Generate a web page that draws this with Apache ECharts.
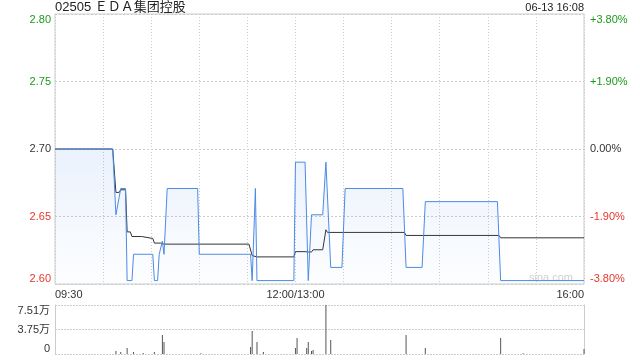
<!DOCTYPE html>
<html>
<head>
<meta charset="utf-8">
<script src="https://cdn.jsdelivr.net/npm/echarts@6/dist/echarts.min.js"></script>
<style>
html,body{margin:0;padding:0;background:#fff;}
#c{width:640px;height:360px;}
</style>
</head>
<body>
<div id="c"></div>
<script>
// ---- data (minute index from 09:30; 0..150 = 09:30..12:00, 150..330 = 13:00..16:00) ----
const titleText = '02505 ＥＤＡ集团控股';
const dateText = '06-13 16:08';
const prevClose = 2.70;
const timeLabels = {0: '09:30', 150: '12:00/13:00', 330: '16:00'};

const priceIdx = [0, 36, 38, 39, 41, 44, 45, 48, 49, 61, 62, 64, 65, 67, 68, 70, 89, 90, 122, 123, 124, 125, 126, 149, 150, 156, 158, 160, 167, 169, 170, 172, 179, 181, 217, 219, 229, 231, 276, 278, 330];
const priceVal = [2.70, 2.70, 2.65, 2.65, 2.67, 2.67, 2.60, 2.60, 2.62, 2.62, 2.60, 2.60, 2.62, 2.63, 2.62, 2.67, 2.67, 2.62, 2.62, 2.60, 2.60, 2.67, 2.60, 2.60, 2.69, 2.69, 2.60, 2.65, 2.65, 2.69, 2.69, 2.61, 2.61, 2.67, 2.67, 2.61, 2.61, 2.66, 2.66, 2.60, 2.60];

const avgIdx = [0, 36, 38, 40, 41, 44, 45, 47, 48, 54, 55, 61, 62, 66, 67, 68, 121, 123, 126, 149, 150, 156, 158, 160, 161, 167, 169, 170, 218, 219, 277, 278, 330];
const avgVal = [2.70, 2.70, 2.667, 2.667, 2.669, 2.669, 2.637, 2.637, 2.6335, 2.6335, 2.632, 2.632, 2.6285, 2.6285, 2.627, 2.6277, 2.6277, 2.619, 2.618, 2.618, 2.622, 2.622, 2.6217, 2.6217, 2.6234, 2.6234, 2.6386, 2.6366, 2.6366, 2.6343, 2.6343, 2.6325, 2.6325];

const volIdx = [38, 41, 45, 49, 55, 62, 67, 68, 91, 122, 123, 126, 130, 150, 151, 157, 158, 160, 161, 169, 172, 219, 231, 278, 292, 330];
const volVal = [4600, 3000, 9200, 3000, 1500, 3000, 29000, 18400, 1000, 10700, 35200, 18400, 3000, 9200, 24500, 9200, 18400, 4600, 6100, 75100, 21500, 29000, 9200, 24500, 1000, 7700];

const pctTicks = [-3.8, -1.9, 0, 1.9, 3.8];
const volMax = 75100;

// ---- build ----
const toPct = p => (p / prevClose - 1) * 100;
const priceData = priceIdx.map((x, i) => [x, toPct(priceVal[i])]);
const avgData = avgIdx.map((x, i) => [x, toPct(avgVal[i])]);
const volData = volIdx.map((x, i) => [x, volVal[i]]);

const green = '#1a9a1a', red = '#e8362c', dark = '#333';
const colorFor = v => Math.abs(v) < 1e-9 ? dark : (v > 0 ? green : red);
const FONT = '"Liberation Sans", Arial, "Noto Sans CJK SC", sans-serif';

const chart = echarts.init(document.getElementById('c'), null, {renderer: 'canvas'});
chart.setOption({
  animation: false,
  backgroundColor: '#fff',
  textStyle: {fontFamily: FONT},
  title: [
    {text: titleText, left: 55, top: 1, padding: 0,
     textStyle: {fontSize: 13, fontWeight: 'normal', color: '#222', fontFamily: FONT}},
    {text: dateText, right: 56, top: 2, padding: 0,
     textStyle: {fontSize: 11, fontWeight: 'normal', color: '#222', fontFamily: FONT}}
  ],
  grid: [
    {left: 55, right: 56, top: 14, height: 270, show: true, borderColor: '#ccc', borderWidth: 1, backgroundColor: 'transparent'},
    {left: 55, right: 56, top: 305, height: 49}
  ],
  xAxis: [
    {type: 'value', gridIndex: 0, min: 0, max: 330, interval: 30,
     axisLine: {show: false}, axisTick: {show: false},
     axisLabel: {show: true, margin: 5, fontSize: 11, color: '#333',
       showMinLabel: true, showMaxLabel: true, alignMinLabel: 'left', alignMaxLabel: 'right',
       formatter: v => timeLabels[Math.round(v)] || ''},
     splitLine: {show: true, lineStyle: {color: '#ccc', type: [1, 2]}}},
    {type: 'value', gridIndex: 1, min: 0, max: 330, interval: 30,
     axisLine: {show: false}, axisTick: {show: false}, axisLabel: {show: false}, splitLine: {show: false}}
  ],
  yAxis: [
    {type: 'value', gridIndex: 0, position: 'left', min: -3.8, max: 3.8, interval: 1.9,
     axisLine: {show: false}, axisTick: {show: false},
     axisLabel: {margin: 4, fontSize: 11, color: v => colorFor(v),
       verticalAlignMinLabel: 'bottom', verticalAlignMaxLabel: 'top',
       formatter: v => (prevClose * (1 + v / 100)).toFixed(2)},
     splitLine: {show: true, lineStyle: {color: '#ccc', type: [2, 2]}}},
    {type: 'value', gridIndex: 0, position: 'right', min: -3.8, max: 3.8, interval: 1.9,
     axisLine: {show: false}, axisTick: {show: false},
     axisLabel: {margin: 6, fontSize: 11, color: v => colorFor(v),
       verticalAlignMinLabel: 'bottom', verticalAlignMaxLabel: 'top',
       formatter: v => Math.abs(v) < 1e-9 ? '0.00%' : (v > 0 ? '+' : '') + v.toFixed(2) + '%'},
     splitLine: {show: false}},
    {type: 'value', gridIndex: 1, position: 'left', min: 0, max: volMax, interval: volMax / 2,
     axisLine: {show: true, lineStyle: {color: '#ccc'}}, axisTick: {show: false},
     axisLabel: {margin: 5, fontSize: 11, color: '#333',
       verticalAlignMinLabel: 'bottom', verticalAlignMaxLabel: 'top',
       formatter: v => v === 0 ? '0' : (v / 10000).toFixed(2) + '万'},
     splitLine: {show: true, lineStyle: {color: '#ccc', type: [2, 1]}}},
    {type: 'value', gridIndex: 1, position: 'right', min: 0, max: volMax, interval: volMax / 2,
     axisLine: {show: true, lineStyle: {color: '#ccc'}}, axisTick: {show: false},
     axisLabel: {show: false}, splitLine: {show: false}}
  ],
  series: [
    {type: 'line', name: 'avg', xAxisIndex: 0, yAxisIndex: 1, data: avgData,
     symbol: 'none', lineStyle: {color: '#333', width: 1}, z: 3},
    {type: 'line', name: 'price', xAxisIndex: 0, yAxisIndex: 1, data: priceData,
     symbol: 'none', lineStyle: {color: '#4d8ae6', width: 1}, z: 4,
     areaStyle: {origin: 'start', color: new echarts.graphic.LinearGradient(0, 0, 0, 1, [
       {offset: 0, color: 'rgba(77,138,230,0.16)'},
       {offset: 1, color: 'rgba(77,138,230,0.02)'}
     ])}},
    {type: 'bar', name: 'vol', xAxisIndex: 1, yAxisIndex: 2, data: volData,
     barWidth: 1, itemStyle: {color: '#555'}}
  ],
  graphic: [
    {type: 'text', right: 67, top: 272, style: {text: 'sina.com', fontSize: 11, fill: '#d0d0d0', fontFamily: FONT}}
  ]
});
</script>
</body>
</html>
